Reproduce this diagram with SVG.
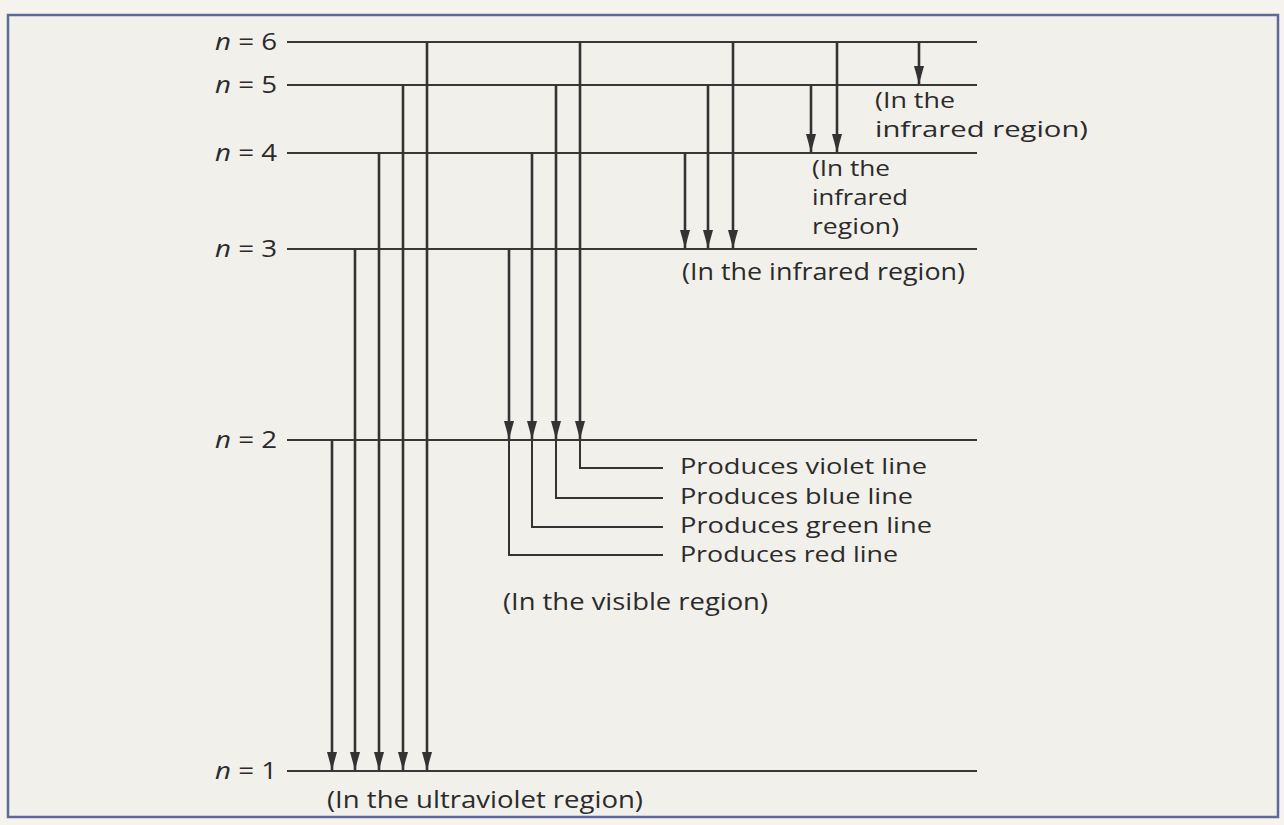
<svg xmlns="http://www.w3.org/2000/svg" width="1284" height="825" viewBox="0 0 1284 825">
<style>
.lvl{stroke:#383838;stroke-width:2.2;fill:none}
.tr{stroke:#333;stroke-width:2.6;fill:none}
.tr2{stroke:#333;stroke-width:2;fill:none}
.lbl{font-family:"Open Sans","Noto Sans",sans-serif;font-size:23px;fill:#2b2b2b}
.ml{font-family:"Open Sans","Noto Sans",sans-serif;font-size:21px;fill:#2b2b2b}
.nl{font-family:"Open Sans","Noto Sans",sans-serif;font-size:24px;fill:#2b2b2b}
.nl tspan.i{font-style:italic}
</style>
<defs>
<marker id="ah" viewBox="0 0 18 10" refX="18" refY="5" markerWidth="18" markerHeight="10" markerUnits="userSpaceOnUse" orient="auto">
<path d="M0,0 L18,5 L0,10 Z" fill="#333"/>
</marker>
</defs>
<rect x="0" y="0" width="1284" height="825" fill="#f6f3ee"/>
<rect x="8" y="15" width="1270" height="802" fill="#f2f0eb" stroke="#5b6a98" stroke-width="2.5"/>
<g id="levels">
<g id="n6"><line class="lvl" x1="287" y1="42" x2="977" y2="42"/><text class="nl" x="215" y="50" textLength="62" lengthAdjust="spacingAndGlyphs"><tspan class="i">n</tspan> = 6</text></g>
<g id="n5"><line class="lvl" x1="287" y1="85" x2="977" y2="85"/><text class="nl" x="215" y="93" textLength="62" lengthAdjust="spacingAndGlyphs"><tspan class="i">n</tspan> = 5</text></g>
<g id="n4"><line class="lvl" x1="287" y1="153" x2="977" y2="153"/><text class="nl" x="215" y="161" textLength="62" lengthAdjust="spacingAndGlyphs"><tspan class="i">n</tspan> = 4</text></g>
<g id="n3"><line class="lvl" x1="287" y1="249" x2="977" y2="249"/><text class="nl" x="215" y="257" textLength="62" lengthAdjust="spacingAndGlyphs"><tspan class="i">n</tspan> = 3</text></g>
<g id="n2"><line class="lvl" x1="287" y1="440" x2="977" y2="440"/><text class="nl" x="215" y="448" textLength="62" lengthAdjust="spacingAndGlyphs"><tspan class="i">n</tspan> = 2</text></g>
<g id="n1"><line class="lvl" x1="287" y1="771" x2="977" y2="771"/><text class="nl" x="215" y="779" textLength="62" lengthAdjust="spacingAndGlyphs"><tspan class="i">n</tspan> = 1</text></g>
</g>
<g id="connectors">
<line class="tr" x1="332" y1="440" x2="332" y2="770" marker-end="url(#ah)"/>
<line class="tr" x1="355" y1="249" x2="355" y2="770" marker-end="url(#ah)"/>
<line class="tr" x1="379" y1="153" x2="379" y2="770" marker-end="url(#ah)"/>
<line class="tr" x1="403" y1="85" x2="403" y2="770" marker-end="url(#ah)"/>
<line class="tr" x1="427" y1="42" x2="427" y2="770" marker-end="url(#ah)"/>
<line class="tr" x1="509" y1="249" x2="509" y2="439" marker-end="url(#ah)"/>
<line class="tr" x1="532" y1="153" x2="532" y2="439" marker-end="url(#ah)"/>
<line class="tr" x1="556" y1="85" x2="556" y2="439" marker-end="url(#ah)"/>
<line class="tr" x1="580" y1="42" x2="580" y2="439" marker-end="url(#ah)"/>
<polyline class="tr2" points="580,440 580,468 663,468"/>
<polyline class="tr2" points="556,440 556,498 663,498"/>
<polyline class="tr2" points="532,440 532,527 663,527"/>
<polyline class="tr2" points="509,440 509,555 663,555"/>
<line class="tr" x1="685" y1="153" x2="685" y2="248" marker-end="url(#ah)"/>
<line class="tr" x1="708" y1="85" x2="708" y2="248" marker-end="url(#ah)"/>
<line class="tr" x1="733" y1="42" x2="733" y2="248" marker-end="url(#ah)"/>
<line class="tr" x1="811" y1="85" x2="811" y2="152" marker-end="url(#ah)"/>
<line class="tr" x1="837" y1="42" x2="837" y2="152" marker-end="url(#ah)"/>
<line class="tr" x1="919" y1="42" x2="919" y2="84" marker-end="url(#ah)"/>
</g>
<g id="labels">
<text class="ml" x="875" y="108" textLength="80" lengthAdjust="spacingAndGlyphs">(In the</text>
<text class="ml" x="875" y="137" textLength="213" lengthAdjust="spacingAndGlyphs">infrared region)</text>
<text class="ml" x="812" y="176" textLength="78" lengthAdjust="spacingAndGlyphs">(In the</text>
<text class="ml" x="812" y="205" textLength="96" lengthAdjust="spacingAndGlyphs">infrared</text>
<text class="ml" x="812" y="234" textLength="87" lengthAdjust="spacingAndGlyphs">region)</text>
<text class="lbl" x="682" y="280" textLength="283" lengthAdjust="spacingAndGlyphs">(In the infrared region)</text>
<text class="ml" x="680" y="474" textLength="247" lengthAdjust="spacingAndGlyphs">Produces violet line</text>
<text class="ml" x="680" y="504" textLength="233" lengthAdjust="spacingAndGlyphs">Produces blue line</text>
<text class="ml" x="680" y="533" textLength="252" lengthAdjust="spacingAndGlyphs">Produces green line</text>
<text class="ml" x="680" y="562" textLength="218" lengthAdjust="spacingAndGlyphs">Produces red line</text>
<text class="lbl" x="503" y="610" textLength="265" lengthAdjust="spacingAndGlyphs">(In the visible region)</text>
<text class="lbl" x="327" y="808" textLength="316" lengthAdjust="spacingAndGlyphs">(In the ultraviolet region)</text>
</g>
</svg>
